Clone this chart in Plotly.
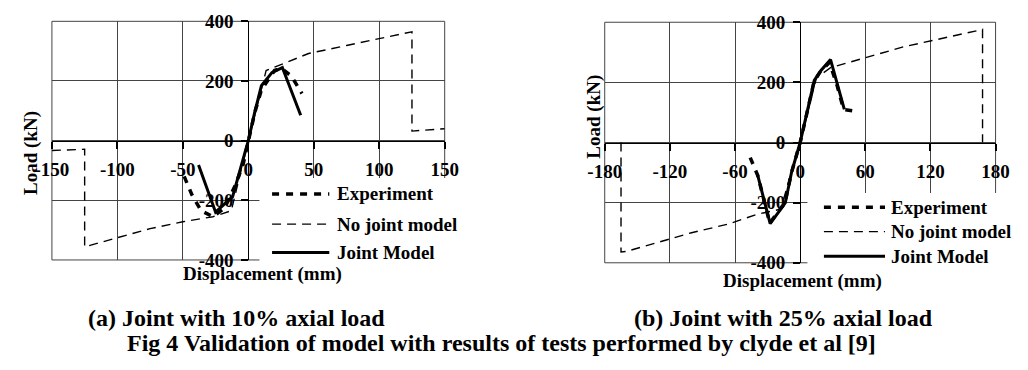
import plotly.graph_objects as go

# ---------------- data (a) 10% axial load ----------------
exp_a_x = [-49, -43, -36, -27, -18, -10, -4, 0, 5, 10, 15, 20, 25, 33, 41]
exp_a_y = [-120, -182, -235, -255, -225, -150, -80, 0, 95, 170, 205, 235, 243, 216, 158]

nojoint_a_x = [-150, -125, -125, -100, -75, -50, -27, -13, 0, 13.6, 46, 75, 100, 125, 125, 150]
nojoint_a_y = [-33, -29, -356, -325, -295, -272, -255, -235, 0, 235, 292, 319, 343, 365, 32, 40]

joint_a_x = [-38, -25, -12, -5, 0, 5, 10, 18, 26, 40]
joint_a_y = [-82, -240, -188, -82, 0, 97, 184, 228, 245, 85]

# ---------------- data (b) 25% axial load ----------------
exp_b_x = [-46, -43, -39, -28, -14, -8, 0, 7, 13, 19, 27, 34, 40, 48]
exp_b_y = [-50, -75, -110, -268, -200, -100, 0, 110, 205, 238, 266, 190, 110, 106]

nojoint_b_x = [-165, -165, -160, -131, -100, -66, -39, -18, 0, 15, 28, 95, 168, 168]
nojoint_b_y = [0, -364, -362, -333, -300, -271, -238, -222, 0, 215, 249, 318, 376, 0]

joint_b_x = [-39, -27.6, -13.7, -8, 0, 7, 13, 19, 28, 40.7]
joint_b_y = [-110, -270, -201, -100, 0, 110, 207, 239, 276, 110]

xticks_a = [-150, -100, -50, 0, 50, 100, 150]
xticks_b = [-180, -120, -60, 0, 60, 120, 180]
yticks = [-400, -200, 0, 200, 400]

series_names = ["Experiment", "No joint model", "Joint Model"]

FONT = "Liberation Serif"
W, H = 1028, 370


def px(v):
    return v / W


def py(v):
    return 1 - v / H


# plot boxes in pixels
A = dict(x0=36, x1=441, y0=12, y1=265)
B = dict(x0=606, x1=1009, y0=13, y1=268)

fig = go.Figure()

styles = {
    "Experiment": dict(color="black", width=3.5, dash="7px,7px"),
    "No joint model": dict(color="black", width=1.4, dash="9px,6px"),
    "Joint Model": dict(color="black", width=3),
}

for name, xs, ys in zip(series_names, [exp_a_x, nojoint_a_x, joint_a_x], [exp_a_y, nojoint_a_y, joint_a_y]):
    fig.add_trace(go.Scatter(x=xs, y=ys, mode="lines", name=name, line=styles[name],
                             xaxis="x", yaxis="y", showlegend=False))

for name, xs, ys in zip(series_names, [exp_b_x, nojoint_b_x, joint_b_x], [exp_b_y, nojoint_b_y, joint_b_y]):
    fig.add_trace(go.Scatter(x=xs, y=ys, mode="lines", name=name, line=styles[name],
                             xaxis="x2", yaxis="y2", showlegend=False))

tickfont = dict(family=FONT, size=19, color="black", weight="bold")


def xaxis(dom, zero_y, ticks):
    return dict(domain=dom, range=[ticks[0], ticks[-1]], tickvals=ticks, ticktext=[str(t) for t in ticks],
                anchor="free", position=zero_y, showline=True, linecolor="black", linewidth=1,
                ticks="outside", ticklen=7, tickwidth=1.5, tickcolor="black",
                showgrid=True, gridcolor="#444", gridwidth=1, zeroline=False,
                tickfont=tickfont, ticklabelstandoff=5, fixedrange=True)


def yaxis(dom, zero_x):
    return dict(domain=dom, range=[-400, 400], tickvals=yticks, ticktext=[str(t) for t in yticks],
                anchor="free", position=zero_x, showline=True, linecolor="black", linewidth=1,
                ticks="outside", ticklen=7, tickwidth=1.5, tickcolor="black",
                showgrid=True, gridcolor="#444", gridwidth=1, zeroline=True, zerolinecolor="#444",
                zerolinewidth=1, tickfont=tickfont, ticklabelstandoff=4, fixedrange=True)


ya_dom = [py(A["y1"]), py(A["y0"])]
yb_dom = [py(B["y1"]), py(B["y0"])]
xa_dom = [px(A["x0"]), px(A["x1"])]
xb_dom = [px(B["x0"]), px(B["x1"])]

fig.update_layout(
    width=W, height=H, margin=dict(l=0, r=0, t=0, b=0),
    paper_bgcolor="white", plot_bgcolor="white",
    font=dict(family=FONT, size=19, color="black", weight="bold"),
    xaxis=xaxis(xa_dom, sum(ya_dom) / 2, xticks_a),
    yaxis=yaxis(ya_dom, sum(xa_dom) / 2),
    xaxis2=xaxis(xb_dom, sum(yb_dom) / 2, xticks_b),
    yaxis2=yaxis(yb_dom, sum(xb_dom) / 2),
    showlegend=False,
)

# plot frames
for xr, yr in [("x domain", "y domain"), ("x2 domain", "y2 domain")]:
    fig.add_shape(type="rect", xref=xr, yref=yr, x0=0, x1=1, y0=0, y1=1,
                  line=dict(color="#444", width=1), layer="below")

# legend boxes (white background covering the grid) with sample lines and labels
legends = [
    dict(box=(250, 446, 178, 270), line_x=(263, 322), text_x=328, rows=[195, 227, 257]),
    dict(box=(815, 1016, 194, 273), line_x=(832, 895), text_x=899, rows=[209, 235, 261]),
]
for lg in legends:
    bx0, bx1, by0, by1 = lg["box"]
    fig.add_shape(type="rect", xref="paper", yref="paper", x0=px(bx0), x1=px(bx1), y0=py(by1), y1=py(by0),
                  line=dict(width=0), fillcolor="white", layer="above")
    for name, ry in zip(series_names, lg["rows"]):
        fig.add_shape(type="line", xref="paper", yref="paper", x0=px(lg["line_x"][0]), x1=px(lg["line_x"][1]),
                      y0=py(ry), y1=py(ry), line=styles[name], layer="above")
        fig.add_annotation(text=name, x=px(lg["text_x"]), y=py(ry), xref="paper", yref="paper",
                           showarrow=False, xanchor="left", yanchor="middle",
                           font=dict(family=FONT, size=19, color="black", weight="bold"))

ann = []
ann.append(dict(text="Load (kN)", x=px(15), y=py(152), textangle=-90))
ann.append(dict(text="Load (kN)", x=px(595), y=py(113), textangle=-90))
ann.append(dict(text="Displacement (mm)", x=px(253), y=py(280)))
ann.append(dict(text="Displacement (mm)", x=px(810), y=py(287)))
ann.append(dict(text="(a) Joint with 10% axial load", x=px(226), y=py(327), size=24))
ann.append(dict(text="(b) Joint with 25% axial load", x=px(790), y=py(327), size=24))
ann.append(dict(text="Fig 4 Validation of model with results of tests performed by clyde et al [9]",
                x=px(500), y=py(353), size=24))
for a in ann:
    fig.add_annotation(text=a["text"], x=a["x"], y=a["y"], xref="paper", yref="paper",
                       showarrow=False, textangle=a.get("textangle", 0),
                       xanchor="center", yanchor="middle",
                       font=dict(family=FONT, size=a.get("size", 19), color="black", weight="bold"))

fig.write_html("out.html")
